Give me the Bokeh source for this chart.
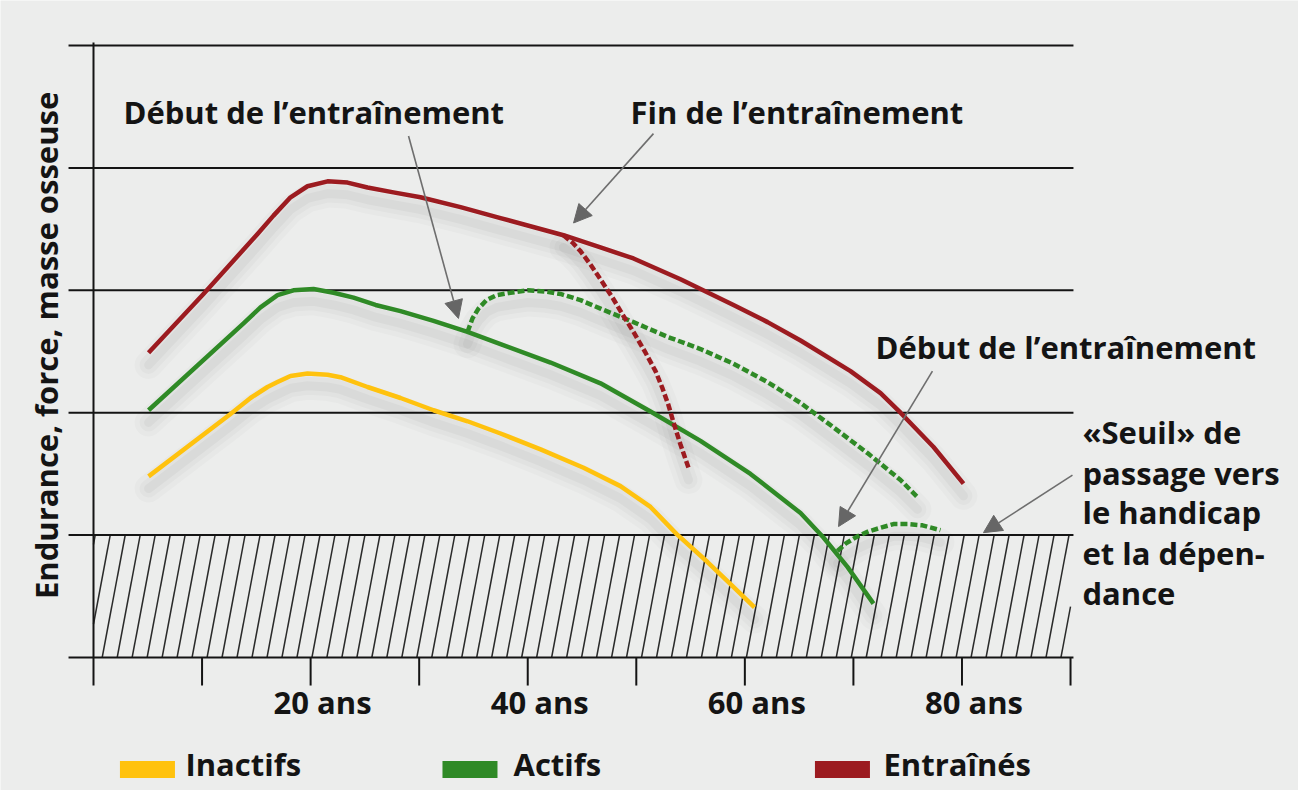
import numpy as np
from bokeh.plotting import figure
from bokeh.models import Range1d, Arrow, NormalHead
from bokeh.core.properties import value
from bokeh.embed import file_html
from bokeh.resources import INLINE

# ---------------- data ----------------
tick_ages = [0, 10, 20, 30, 40, 50, 60, 70, 80, 90]
label_ages = [20, 40, 60, 80]
label_texts = ["20 ans", "40 ans", "60 ans", "80 ans"]
grid_levels = [0, 1, 2, 3, 4, 5]
seuil = 1.0

age_inactifs = [5.07, 12.62, 14.46, 16.03, 16.95, 18.15, 19.71, 21.56, 22.75, 25.24, 28.28, 31.32,
                34.45, 37.49, 41.18, 45.14, 48.54, 51.31, 53.70, 56.56, 58.68, 60.89]
val_inactifs = [1.48, 1.99, 2.12, 2.21, 2.25, 2.30, 2.32, 2.31, 2.29, 2.21, 2.12, 2.02,
                1.93, 1.83, 1.70, 1.55, 1.40, 1.23, 1.01, 0.78, 0.60, 0.41]

age_actifs = [5.07, 13.82, 15.38, 16.95, 18.42, 20.27, 22.11, 23.95, 25.98, 28.28, 31.32, 34.45,
              37.49, 42.10, 46.70, 51.31, 55.91, 60.52, 65.13, 67.24, 69.45, 71.85]
val_actifs = [2.02, 2.73, 2.86, 2.96, 3.00, 3.01, 2.98, 2.94, 2.88, 2.83, 2.75, 2.66,
              2.56, 2.41, 2.24, 2.01, 1.77, 1.50, 1.18, 0.98, 0.74, 0.44]

age_entraines = [5.07, 10.13, 15.11, 16.58, 18.15, 19.71, 21.56, 23.40, 25.24, 27.63, 30.12, 33.81,
                 37.49, 43.29, 46.70, 49.74, 54.07, 58.95, 62.09, 65.13, 69.73, 72.50, 74.34, 77.38, 80.14]
val_entraines = [2.49, 2.97, 3.46, 3.61, 3.76, 3.85, 3.89, 3.88, 3.84, 3.80, 3.76, 3.68,
                 3.59, 3.45, 3.35, 3.26, 3.09, 2.88, 2.74, 2.59, 2.34, 2.16, 2.00, 1.72, 1.42]

# training started at ~34 years (active people)
age_debut1 = [34.45, 34.91, 35.46, 36.20, 37.12, 38.41, 39.98, 41.64, 43.02, 44.86, 46.70, 49.74,
              52.87, 55.91, 58.95, 62.09, 65.13, 68.17, 71.30, 74.34, 75.90]
val_debut1 = [2.66, 2.77, 2.85, 2.92, 2.96, 2.98, 3.00, 2.99, 2.97, 2.92, 2.85, 2.74,
              2.62, 2.52, 2.40, 2.25, 2.08, 1.88, 1.67, 1.45, 1.31]

# training stopped at ~43 years (trained people)
age_fin = [43.29, 44.12, 44.86, 45.78, 46.70, 47.81, 48.82, 49.74, 50.85, 51.77, 52.41, 52.97, 53.43, 54.07, 54.81]
val_fin = [3.45, 3.39, 3.32, 3.21, 3.09, 2.94, 2.79, 2.66, 2.49, 2.34, 2.20, 2.06, 1.92, 1.74, 1.55]

# training started at ~68 years (active people)
age_debut2 = [68.53, 69.27, 70.38, 71.39, 72.50, 73.69, 74.98, 76.36, 78.02]
val_debut2 = [0.87, 0.93, 0.99, 1.03, 1.06, 1.09, 1.09, 1.08, 1.04]

legend_labels = ["Inactifs", "Actifs", "Entraînés"]
colors = ["#FFC20E", "#2F8A26", "#9C1B20"]

# ---------------- figure ----------------
BG = "#ECEDEC"
INK = "#141414"
FONT = value("Open Sans")
FS = "31px"

p = figure(width=1298, height=790, output_backend="svg", toolbar_location=None,
           x_range=Range1d(-8.567, 111.0), y_range=Range1d(-1.0866, 5.3676),
           x_axis_location=None, y_axis_location=None, min_border=0)
p.background_fill_color = BG
p.border_fill_color = BG
p.outline_line_color = None
p.xgrid.visible = False
p.ygrid.visible = False

# hatched zone below the threshold
spacing, tilt = 1.38, 2.12
x0 = np.arange(0.8 - 3 * spacing, 90, spacing)
xs0, ys0, xs1, ys1 = [], [], [], []
for b in x0:
    sx, sy = b, 0.0
    ex, ey = b + tilt * seuil, seuil
    if sx < 0:
        sx, sy = 0.0, (0 - b) / tilt
    if ex > 90:
        ex, ey = 90.0, (90 - b) / tilt
    if sy < ey and sx <= ex:
        xs0.append(sx); ys0.append(sy); xs1.append(ex); ys1.append(ey)
p.segment(xs0, ys0, xs1, ys1, line_color="#2a2a2a", line_width=1.5)

# horizontal lines
p.segment(x0=[-2.3] * len(grid_levels), x1=[90.27] * len(grid_levels),
          y0=grid_levels, y1=grid_levels, line_color=INK, line_width=2)

# axis line and ticks
tick_len = 0.229
p.segment(x0=[0], x1=[0], y0=[0], y1=[5.025], line_color=INK, line_width=2)
p.segment(x0=tick_ages, x1=tick_ages, y0=[0] * len(tick_ages), y1=[-tick_len] * len(tick_ages),
          line_color=INK, line_width=2)

series = [(age_inactifs, val_inactifs, colors[0], None),
          (age_actifs, val_actifs, colors[1], None),
          (age_entraines, val_entraines, colors[2], None),
          (age_debut1, val_debut1, colors[1], "7 3"),
          (age_fin, val_fin, colors[2], "7 3"),
          (age_debut2, val_debut2, colors[1], "7 3")]

# soft drop shadows
for xs, ys, c, d in series:
    sh = np.array(ys) - 0.1
    for w, a in [(28, 0.018), (18, 0.025), (9, 0.03)]:
        p.line(xs, sh, line_color="black", line_alpha=a, line_width=w,
               line_cap="round", line_join="round")

for xs, ys, c, d in series:
    if d is None:
        p.line(xs, ys, line_color=c, line_width=4.5, line_join="round")
    else:
        p.line(xs, ys, line_color=c, line_width=4.5, line_dash=d, line_join="round")

# arrows
arrow_col = "#6E6E6E"
arrows = [(29.02, 4.26, 33.62, 2.77), (51.58, 4.28, 44.22, 3.55),
          (77.28, 2.34, 68.63, 1.07), (90.18, 1.49, 81.98, 1.02)]
for xa, ya, xb, yb in arrows:
    p.add_layout(Arrow(x_start=xa, y_start=ya, x_end=xb, y_end=yb,
                       line_color=arrow_col, line_width=1.6,
                       end=NormalHead(size=18, fill_color="#666666", line_color="#666666")))

txt = dict(text_font=FONT, text_font_style="bold", text_font_size=FS,
           text_color=INK, text_baseline="alphabetic", text_align="left")
p.text(x=[2.76, 49.47, 72.03], y=[4.46, 4.46, 2.54],
       text=["Début de l’entraînement", "Fin de l’entraînement", "Début de l’entraînement"], **txt)

seuil_lines = ["«Seuil» de", "passage vers", "le handicap", "et la dépen-", "dance"]
seuil_y = [1.84, 1.51, 1.19, 0.85, 0.53]
p.text(x=[91.1] * len(seuil_lines), y=seuil_y, text=seuil_lines, **txt)

# x tick labels
p.text(x=label_ages, y=[-0.365] * len(label_ages), text=label_texts, x_offset=12,
       text_font=FONT, text_font_style="bold", text_font_size=FS, text_color=INK,
       text_align="center", text_baseline="alphabetic")

# y axis title
p.text(x=[-4.42], y=[2.55], text=["Endurance, force, masse osseuse"], angle=np.pi / 2,
       text_font=FONT, text_font_style="bold", text_font_size=FS, text_color=INK,
       text_align="center", text_baseline="middle")

# legend
p.rect(x=[4.97, 34.68, 68.99], y=[-0.915] * 3, width=55, height=17,
       width_units="screen", height_units="screen", fill_color=colors, line_color=None)
p.text(x=[8.47, 38.69, 72.77], y=[-0.87] * 3, text=legend_labels, **txt)

open("out.html", "w").write(file_html(p, INLINE))
